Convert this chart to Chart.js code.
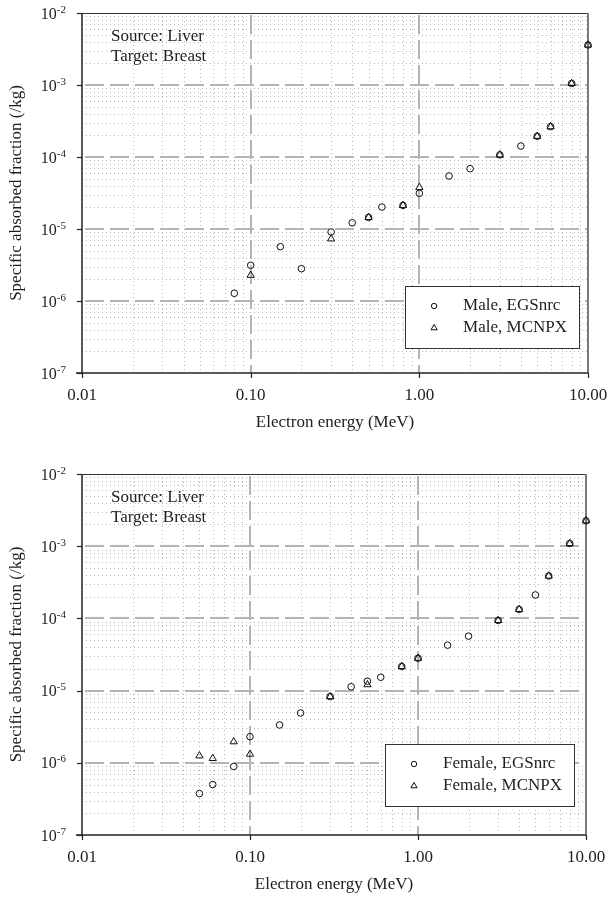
<!DOCTYPE html>
<html lang="en">
<head>
<meta charset="UTF-8" />
<title>Specific absorbed fraction, liver to breast</title>
<script src="https://cdn.jsdelivr.net/npm/chart.js"></script>
<style>
  body { margin: 0; background: #fff; }
  canvas { display: block; }
</style>
</head>
<body>
<canvas id="maleChart" width="611" height="445"></canvas>
<canvas id="femaleChart" width="611" height="454"></canvas>
<script>
  // Electron energy (MeV) and specific absorbed fraction (/kg)
  const maleEgsEnergy = [0.08, 0.1, 0.15, 0.2, 0.3, 0.4, 0.5, 0.6, 0.8, 1.0, 1.5, 2.0, 3.0, 4.0, 5.0, 6.0, 8.0, 10.0];
  const maleEgsSaf = [1.28e-6, 3.13e-6, 5.68e-6, 2.81e-6, 9.1e-6, 1.22e-5, 1.45e-5, 2.02e-5, 2.13e-5, 3.13e-5,
                      5.45e-5, 6.88e-5, 1.07e-4, 1.42e-4, 1.94e-4, 2.64e-4, 1.05e-3, 3.6e-3];
  const maleMcnpxEnergy = [0.1, 0.3, 0.5, 0.8, 1.0, 3.0, 5.0, 6.0, 8.0, 10.0];
  const maleMcnpxSaf = [2.28e-6, 7.3e-6, 1.45e-5, 2.13e-5, 3.79e-5, 1.07e-4, 1.94e-4, 2.64e-4, 1.05e-3, 3.6e-3];

  const femaleEgsEnergy = [0.05, 0.06, 0.08, 0.1, 0.15, 0.2, 0.3, 0.4, 0.5, 0.6, 0.8, 1.0, 1.5, 2.0, 3.0, 4.0, 5.0, 6.0, 8.0, 10.0];
  const femaleEgsSaf = [3.75e-7, 5.0e-7, 8.9e-7, 2.3e-6, 3.34e-6, 4.9e-6, 8.26e-6, 1.13e-5, 1.35e-5, 1.53e-5, 2.16e-5,
                        2.81e-5, 4.26e-5, 5.68e-5, 9.38e-5, 1.33e-4, 2.11e-4, 3.87e-4, 1.09e-3, 2.25e-3];
  const femaleMcnpxEnergy = [0.05, 0.06, 0.08, 0.1, 0.3, 0.5, 0.8, 1.0, 3.0, 4.0, 6.0, 8.0, 10.0];
  const femaleMcnpxSaf = [1.25e-6, 1.15e-6, 1.96e-6, 1.32e-6, 8.26e-6, 1.21e-5, 2.16e-5, 2.81e-5, 9.38e-5, 1.33e-4,
                          3.87e-4, 1.09e-3, 2.25e-3];

  const xTicks = [0.01, 0.1, 1, 10];
  const xTickLabels = ['0.01', '0.10', '1.00', '10.00'];
  const yTicks = [1e-7, 1e-6, 1e-5, 1e-4, 1e-3, 1e-2];
  const yTickExponents = ['-7', '-6', '-5', '-4', '-3', '-2'];

  const maleLegend = ['Male, EGSnrc', 'Male, MCNPX'];
  const femaleLegend = ['Female, EGSnrc', 'Female, MCNPX'];
  const noteLines = ['Source: Liver', 'Target: Breast'];
  const xTitle = 'Electron energy (MeV)';
  const yTitle = 'Specific absorbed fraction (/kg)';

  const SERIF = '"Liberation Serif", "Times New Roman", serif';
  const INK = '#1e1e1e';

  const egsStyle = { pointStyle: 'circle', pointRadius: 3.3 };
  const mcnpxStyle = { pointStyle: 'triangle', pointRadius: 4.2 };

  function toPoints(xs, ys) {
    return xs.map((x, i) => ({ x: x, y: ys[i] }));
  }

  // 2..9 times every decade between 10^pLo and 10^pHi
  function minorValues(pLo, pHi) {
    const out = [];
    for (let p = pLo; p < pHi; p++) {
      const d = Math.pow(10, p);
      for (let k = 2; k <= 9; k++) out.push(k * d);
    }
    return out;
  }

  function line(ctx, x1, y1, x2, y2) {
    ctx.beginPath();
    ctx.moveTo(x1, y1);
    ctx.lineTo(x2, y2);
    ctx.stroke();
  }

  const logGrid = {
    id: 'logGrid',
    beforeDatasetsDraw(chart) {
      const { ctx, chartArea: a, scales: { x, y } } = chart;
      ctx.save();
      ctx.beginPath();
      ctx.rect(a.left, a.top, a.right - a.left, a.bottom - a.top);
      ctx.clip();

      // dotted minor lines
      ctx.strokeStyle = '#b8b8b8';
      ctx.lineWidth = 1;
      ctx.setLineDash([1, 3]);
      minorValues(-2, 1).forEach(v => {
        const px = Math.round(x.getPixelForValue(v)) + 0.5;
        line(ctx, px, a.top, px, a.bottom);
      });
      minorValues(-7, -2).forEach(v => {
        const py = Math.round(y.getPixelForValue(v)) + 0.5;
        line(ctx, a.left, py, a.right, py);
      });

      // dashed decade lines
      ctx.strokeStyle = '#b4b4b4';
      ctx.lineWidth = 2;
      ctx.setLineDash([19, 6]);
      xTicks.slice(1, -1).forEach(v => {
        const px = Math.round(x.getPixelForValue(v));
        line(ctx, px, a.top + 2, px, a.bottom);
      });
      yTicks.slice(1, -1).forEach(v => {
        const py = Math.round(y.getPixelForValue(v));
        line(ctx, a.left + 3, py, a.right, py);
      });
      ctx.restore();

      // plot frame
      ctx.save();
      ctx.strokeStyle = '#333';
      ctx.lineWidth = 1;
      line(ctx, a.left, a.top + 0.5, a.right, a.top + 0.5);
      ctx.strokeStyle = '#7a7a7a';
      ctx.lineWidth = 2;
      line(ctx, a.right, a.top, a.right, a.bottom);
      ctx.strokeStyle = '#222';
      ctx.lineWidth = 1.5;
      line(ctx, a.left, a.top, a.left, a.bottom);
      line(ctx, a.left - 6, a.bottom, a.right, a.bottom);

      // tick marks at decades
      ctx.lineWidth = 1.2;
      yTicks.forEach(v => {
        const py = Math.round(y.getPixelForValue(v)) + 0.5;
        line(ctx, a.left - 5, py, a.left, py);
      });
      xTicks.forEach(v => {
        const px = Math.round(x.getPixelForValue(v)) + 0.5;
        line(ctx, px, a.bottom, px, a.bottom + 5);
      });
      ctx.restore();
    },

    afterDatasetsDraw(chart, args, opts) {
      const { ctx, chartArea: a, scales: { x, y } } = chart;
      ctx.save();
      ctx.fillStyle = INK;

      // x tick labels
      ctx.font = '17px ' + SERIF;
      ctx.textAlign = 'center';
      ctx.textBaseline = 'middle';
      xTicks.forEach((v, i) => {
        ctx.fillText(xTickLabels[i], x.getPixelForValue(v), a.bottom + 23);
      });

      // y tick labels as 10 with a raised exponent
      ctx.textAlign = 'left';
      ctx.textBaseline = 'alphabetic';
      yTicks.forEach((v, i) => {
        const py = y.getPixelForValue(v);
        ctx.font = '11px ' + SERIF;
        const wExp = ctx.measureText(yTickExponents[i]).width;
        ctx.font = '16px ' + SERIF;
        const wBase = ctx.measureText('10').width;
        const x0 = a.left - 16 - wExp - wBase;
        ctx.fillText('10', x0, py + 5.5);
        ctx.font = '11px ' + SERIF;
        ctx.fillText(yTickExponents[i], x0 + wBase, py - 0.5);
      });

      // axis titles
      ctx.font = '17px ' + SERIF;
      ctx.textAlign = 'center';
      ctx.textBaseline = 'middle';
      ctx.fillText(xTitle, (a.left + a.right) / 2, a.bottom + 50);
      ctx.save();
      ctx.translate(17, (a.top + a.bottom) / 2);
      ctx.rotate(-Math.PI / 2);
      ctx.fillText(yTitle, 0, 0);
      ctx.restore();

      // source / target note
      ctx.textAlign = 'left';
      noteLines.forEach((t, i) => ctx.fillText(t, 111, a.top + 24 + i * 20));

      // legend box
      const labels = opts.labels;
      ctx.font = '17px ' + SERIF;
      const textW = Math.max(...labels.map(t => ctx.measureText(t).width));
      const boxW = 58 + textW + 12;
      const boxH = 62;
      const bx = a.right - opts.right - boxW;
      const by = a.bottom - opts.bottom - boxH;
      ctx.fillStyle = '#fff';
      ctx.fillRect(bx, by, boxW, boxH);
      ctx.strokeStyle = '#333';
      ctx.lineWidth = 1;
      ctx.strokeRect(Math.round(bx) + 0.5, Math.round(by) + 0.5, Math.round(boxW), boxH);

      const styles = [egsStyle, mcnpxStyle];
      labels.forEach((t, i) => {
        const ry = by + 20 + i * 22;
        // hollow marker, same shape as the dataset
        ctx.fillStyle = 'rgba(0,0,0,0)';
        ctx.strokeStyle = '#111';
        ctx.lineWidth = 1;
        Chart.helpers.drawPoint(ctx, {
          pointStyle: styles[i].pointStyle,
          radius: styles[i].pointRadius - 0.6,
          borderWidth: 1,
          rotation: 0
        }, bx + 29, ry);
        ctx.fillStyle = INK;
        ctx.textAlign = 'left';
        ctx.textBaseline = 'middle';
        ctx.fillText(t, bx + 58, ry);
      });
      ctx.restore();
    }
  };

  function drawSafChart(id, egs, mcnpx, legendLabels, box, legendPos) {
    const canvas = document.getElementById(id);
    const dataset = (points, style) => ({
      data: points,
      showLine: false,
      clip: false,
      pointStyle: style.pointStyle,
      pointRadius: style.pointRadius,
      pointHoverRadius: style.pointRadius,
      pointBorderWidth: 1,
      pointBorderColor: '#111',
      pointBackgroundColor: 'rgba(0,0,0,0)'
    });

    return new Chart(canvas, {
      type: 'scatter',
      data: {
        datasets: [
          dataset(egs, egsStyle),
          dataset(mcnpx, mcnpxStyle)
        ]
      },
      options: {
        responsive: false,
        animation: false,
        events: [],
        layout: { padding: { top: box.top, right: 611 - box.right, left: 0, bottom: 0 } },
        scales: {
          x: {
            type: 'logarithmic',
            position: 'bottom',
            min: 0.01,
            max: 10,
            grid: { display: false, drawTicks: false },
            border: { display: false },
            ticks: { display: false },
            afterBuildTicks: s => { s.ticks = xTicks.map(v => ({ value: v })); },
            afterFit: s => { s.height = canvas.height - box.bottom; }
          },
          y: {
            type: 'logarithmic',
            position: 'left',
            min: 1e-7,
            max: 1e-2,
            grid: { display: false, drawTicks: false },
            border: { display: false },
            ticks: { display: false },
            afterBuildTicks: s => { s.ticks = yTicks.map(v => ({ value: v })); },
            afterFit: s => { s.width = box.left; }
          }
        },
        plugins: {
          legend: { display: false },
          tooltip: { enabled: false },
          logGrid: { labels: legendLabels, right: legendPos.right, bottom: legendPos.bottom }
        }
      },
      plugins: [logGrid]
    });
  }

  drawSafChart('maleChart',
    toPoints(maleEgsEnergy, maleEgsSaf),
    toPoints(maleMcnpxEnergy, maleMcnpxSaf),
    maleLegend,
    { left: 82, right: 588, top: 13, bottom: 373 },
    { right: 9, bottom: 25 });

  drawSafChart('femaleChart',
    toPoints(femaleEgsEnergy, femaleEgsSaf),
    toPoints(femaleMcnpxEnergy, femaleMcnpxSaf),
    femaleLegend,
    { left: 82, right: 586, top: 29, bottom: 390 },
    { right: 12, bottom: 29 });
</script>
</body>
</html>
